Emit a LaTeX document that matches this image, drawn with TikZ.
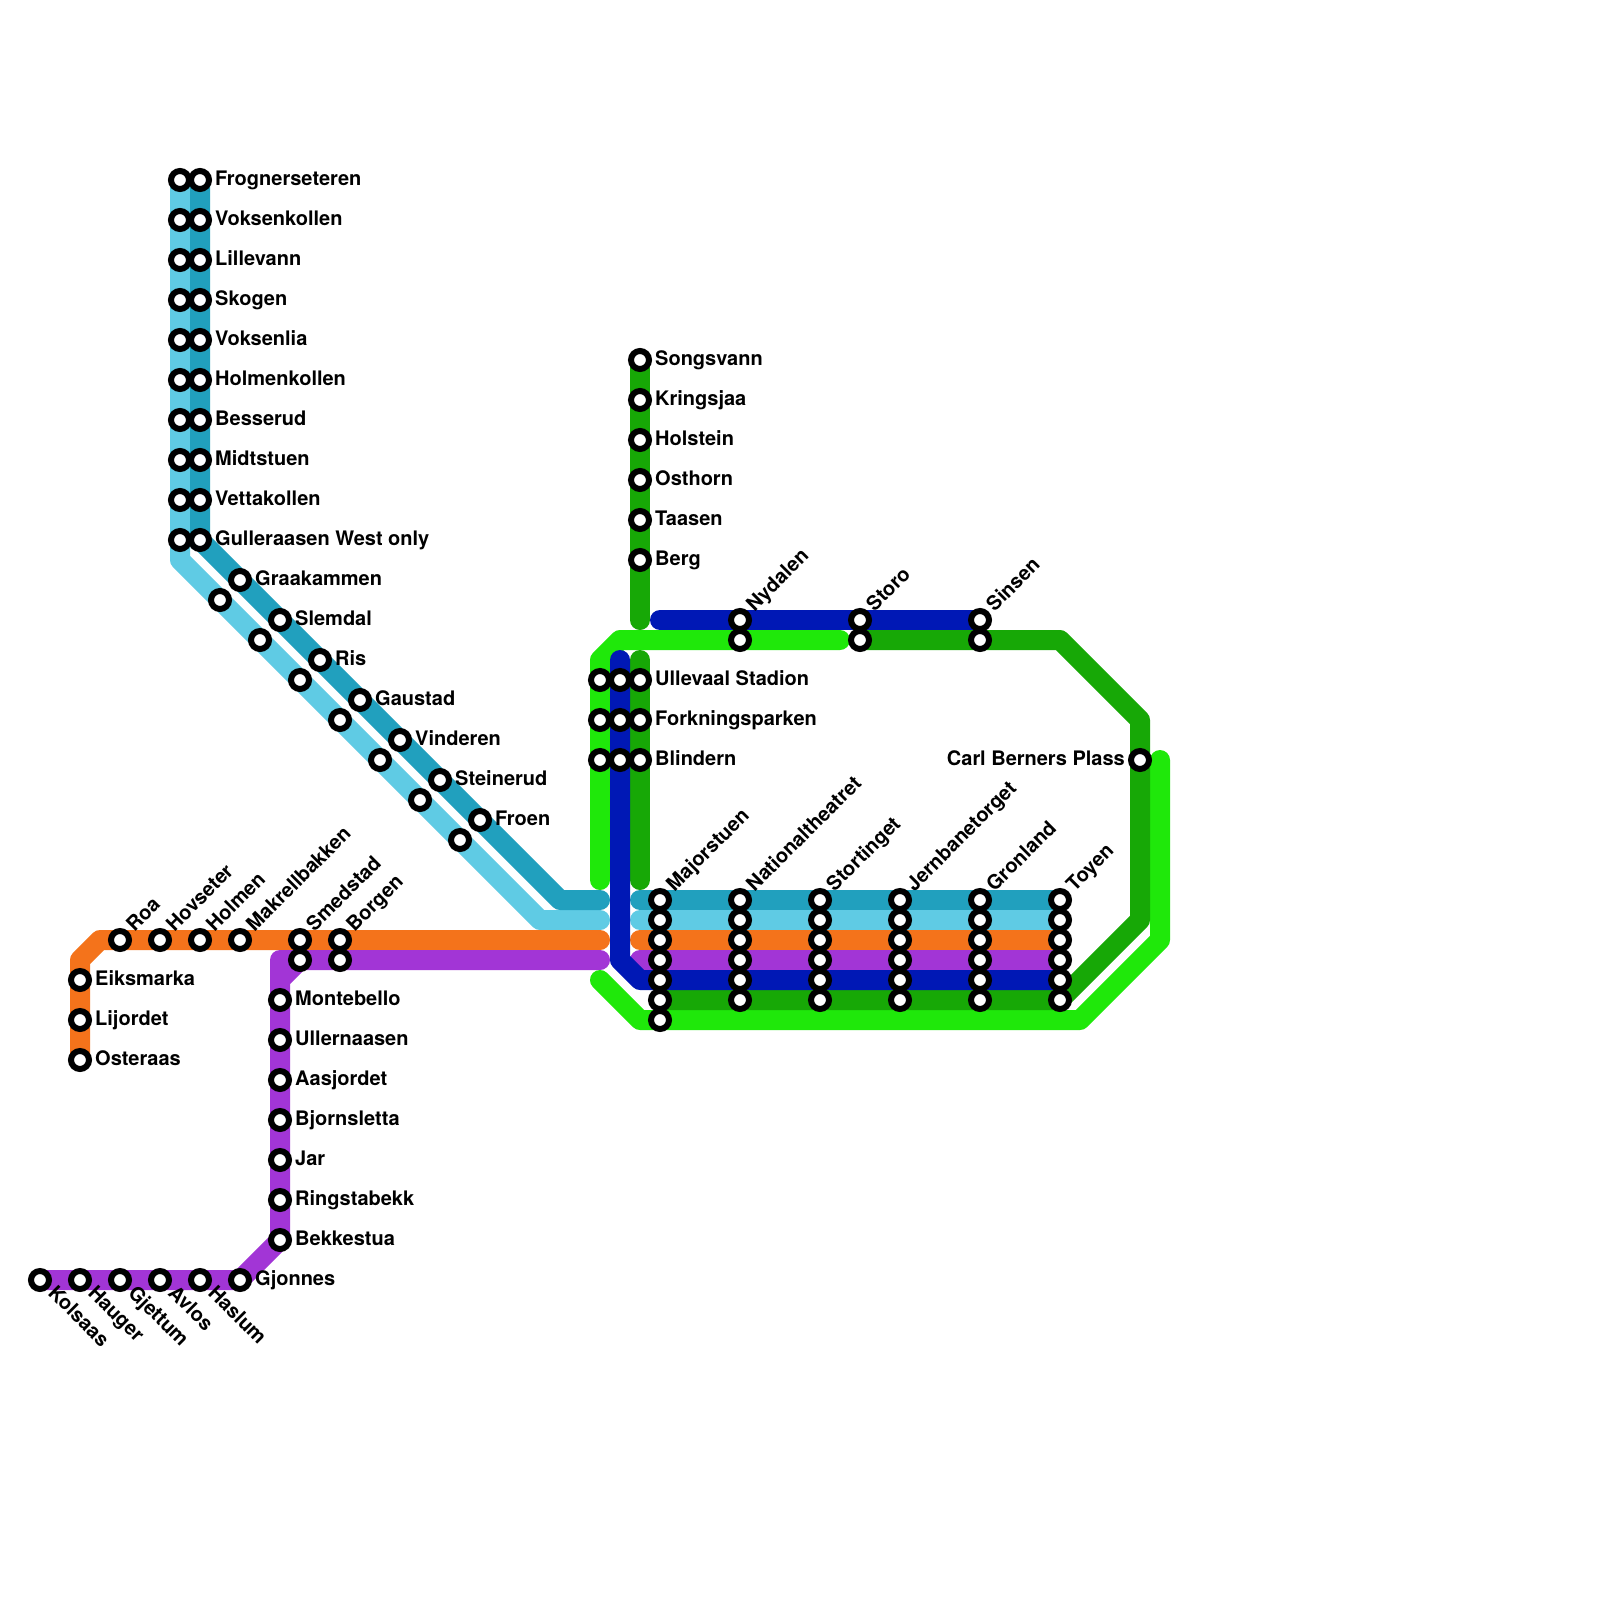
\documentclass[tikz,border=0pt]{standalone}
\usepackage{fontspec}
\setmainfont{TeX Gyre Heros}
\usetikzlibrary{backgrounds}
\definecolor{cteal}{HTML}{21A0BE}
\definecolor{clight}{HTML}{5FCBE4}
\definecolor{corange}{HTML}{F4731B}
\definecolor{cpurple}{HTML}{A235D6}
\definecolor{cblue}{HTML}{0018B5}
\definecolor{cdgreen}{HTML}{17A806}
\definecolor{cbgreen}{HTML}{1FE80A}
\tikzset{
  stop/.style={circle,draw=black,fill=white,line width=6pt,minimum size=18pt,inner sep=0pt,outer sep=0pt},
  lab/.style={inner sep=0pt,font=\fontsize{20}{24}\selectfont\bfseries,text=black},
  route/.style={line width=20pt,line cap=round,line join=round}
}
\newcommand\stA[3]{\node[stop] (#1) at (#2,#3) {};}
\newcommand\stR[4]{\stA{#1}{#2}{#3}\node[lab,anchor=base west] (l#1) at ({#2+15},{#3+5.5}) {#4};}
\newcommand\stU[4]{\stA{#1}{#2}{#3}\node[lab,anchor=base west,rotate=45] (l#1) at ({#2+14.5},{#3-7.5}) {#4};}
\newcommand\stD[4]{\stA{#1}{#2}{#3}\node[lab,anchor=base west,rotate=-45] (l#1) at ({#2+7},{#3+14}) {#4};}
\newcommand\stL[4]{\stA{#1}{#2}{#3}\node[lab,anchor=base east] (l#1) at ({#2-15},{#3+5.5}) {#4};}
\begin{document}
\begin{tikzpicture}[x=1pt,y=-1pt]
\useasboundingbox (0,0) rectangle (1600,1600);
% stations on light/teal branch
\foreach \n/\y in {1/180,2/220,3/260,4/300,5/340,6/380,7/420,8/460,9/500,10/540}{\stA{w\n}{180}{\y}}
\stR{t1}{200}{180}{Frognerseteren}
\stR{t2}{200}{220}{Voksenkollen}
\stR{t3}{200}{260}{Lillevann}
\stR{t4}{200}{300}{Skogen}
\stR{t5}{200}{340}{Voksenlia}
\stR{t6}{200}{380}{Holmenkollen}
\stR{t7}{200}{420}{Besserud}
\stR{t8}{200}{460}{Midtstuen}
\stR{t9}{200}{500}{Vettakollen}
\stR{t10}{200}{540}{Gulleraasen West only}
\stR{d1}{240}{580}{Graakammen}
\stR{d2}{280}{620}{Slemdal}
\stR{d3}{320}{660}{Ris}
\stR{d4}{360}{700}{Gaustad}
\stR{d5}{400}{740}{Vinderen}
\stR{d6}{440}{780}{Steinerud}
\stR{d7}{480}{820}{Froen}
\foreach \n/\x/\y in {1/220/600,2/260/640,3/300/680,4/340/720,5/380/760,6/420/800,7/460/840}{\stA{e\n}{\x}{\y}}
% orange branch
\stR{os}{80}{1060}{Osteraas}
\stR{li}{80}{1020}{Lijordet}
\stR{ei}{80}{980}{Eiksmarka}
\stU{ro}{120}{940}{Roa}
\stU{ho}{160}{940}{Hovseter}
\stU{hl}{200}{940}{Holmen}
\stU{ma}{240}{940}{Makrellbakken}
\stU{sm}{300}{940}{Smedstad}
\stU{bo}{340}{940}{Borgen}
\stA{smb}{300}{960}
\stA{bob}{340}{960}
% purple branch
\stR{mo}{280}{1000}{Montebello}
\stR{ul}{280}{1040}{Ullernaasen}
\stR{aa}{280}{1080}{Aasjordet}
\stR{bj}{280}{1120}{Bjornsletta}
\stR{ja}{280}{1160}{Jar}
\stR{ri}{280}{1200}{Ringstabekk}
\stR{be}{280}{1240}{Bekkestua}
\stR{gj}{240}{1280}{Gjonnes}
\stD{ko}{40}{1280}{Kolsaas}
\stD{ha}{80}{1280}{Hauger}
\stD{ge}{120}{1280}{Gjettum}
\stD{av}{160}{1280}{Avlos}
\stD{hs}{200}{1280}{Haslum}
% north branch
\stR{so}{640}{360}{Songsvann}
\stR{kr}{640}{400}{Kringsjaa}
\stR{hn}{640}{440}{Holstein}
\stR{ot}{640}{480}{Osthorn}
\stR{ta}{640}{520}{Taasen}
\stR{bg}{640}{560}{Berg}
% top row
\stU{ny}{740}{620}{Nydalen}
\stA{nyb}{740}{640}
\stU{st}{860}{620}{Storo}
\stA{stb}{860}{640}
\stU{si}{980}{620}{Sinsen}
\stA{sib}{980}{640}
% Ullevaal group
\stR{ud}{640}{680}{Ullevaal Stadion}
\stR{fo}{640}{720}{Forkningsparken}
\stR{bl}{640}{760}{Blindern}
\foreach \n/\y in {1/680,2/720,3/760}{\stA{gl\n}{600}{\y}\stA{bu\n}{620}{\y}}
% centre
\stU{mj1}{660}{900}{Majorstuen}
\foreach \n/\y in {2/920,3/940,4/960,5/980,6/1000,7/1020}{\stA{mj\n}{660}{\y}}
\stU{na1}{740}{900}{Nationaltheatret}
\stU{sg1}{820}{900}{Stortinget}
\stU{je1}{900}{900}{Jernbanetorget}
\stU{gr1}{980}{900}{Gronland}
\stU{to1}{1060}{900}{Toyen}
\foreach \n/\y in {2/920,3/940,4/960,5/980,6/1000}{
  \stA{na\n}{740}{\y}\stA{sg\n}{820}{\y}\stA{je\n}{900}{\y}\stA{gr\n}{980}{\y}\stA{to\n}{1060}{\y}}
\stL{cb}{1140}{760}{Carl Berners Plass}
% bends and free ends
\coordinate (tA) at (560,900);
\coordinate (tB) at (600,900);
\coordinate (tC) at (640,900);
\coordinate (wA) at (180,560);
\coordinate (wB) at (540,920);
\coordinate (wC) at (600,920);
\coordinate (wD) at (640,920);
\coordinate (oA) at (80,960);
\coordinate (oB) at (100,940);
\coordinate (oC) at (600,940);
\coordinate (oD) at (640,940);
\coordinate (pA) at (280,980);
\coordinate (pB) at (280,960);
\coordinate (pC) at (600,960);
\coordinate (pD) at (640,960);
\coordinate (uA) at (620,660);
\coordinate (uB) at (620,960);
\coordinate (uC) at (640,980);
\coordinate (uD) at (660,620);
\coordinate (nA) at (640,620);
\coordinate (nB) at (640,660);
\coordinate (nC) at (640,880);
\coordinate (gA) at (1060,640);
\coordinate (gB) at (1140,720);
\coordinate (gC) at (1140,920);
\coordinate (gD) at (1060,1000);
\coordinate (lA) at (600,880);
\coordinate (lB) at (600,660);
\coordinate (lC) at (620,640);
\coordinate (lD) at (840,640);
\coordinate (lE) at (600,980);
\coordinate (lF) at (640,1020);
\coordinate (lG) at (1080,1020);
\coordinate (lH) at (1160,940);
\coordinate (lI) at (1160,760);
\begin{scope}[on background layer]
\fill[white] (0,0) rectangle (1600,1600);
\draw[route,clight] (w1.center) -- (wA) -- (wB) -- (wC);
\draw[route,clight] (wD) -- (to2.center);
\draw[route,cteal] (t1.center) -- (t10.center) -- (tA) -- (tB);
\draw[route,cteal] (tC) -- (to1.center);
\draw[route,corange] (os.center) -- (oA) -- (oB) -- (oC);
\draw[route,corange] (oD) -- (to3.center);
\draw[route,cpurple] (ko.center) -- (gj.center) -- (be.center) -- (pA) -- (smb.center) -- (pC);
\draw[route,cpurple] (pA) -- (pB) -- (smb.center);
\draw[route,cpurple] (pD) -- (to4.center);
\draw[route,cbgreen] (lA) -- (lB) -- (lC) -- (lD);
\draw[route,cbgreen] (lE) -- (lF) -- (lG) -- (lH) -- (lI);
\draw[route,cdgreen] (so.center) -- (nA);
\draw[route,cdgreen] (nB) -- (nC);
\draw[route,cdgreen] (stb.center) -- (gA) -- (gB) -- (gC) -- (gD) -- (mj6.center);
\draw[route,cblue] (uA) -- (uB) -- (uC) -- (to5.center);
\draw[route,cblue] (uD) -- (si.center);
\end{scope}
\end{tikzpicture}
\end{document}
